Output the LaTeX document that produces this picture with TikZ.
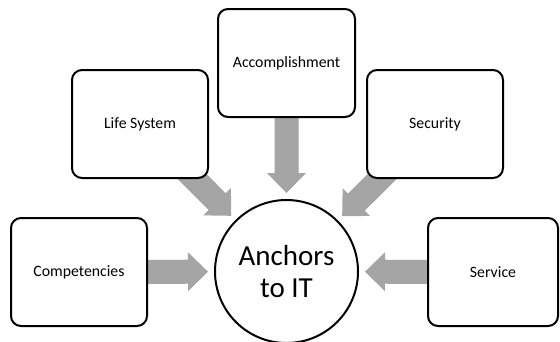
\documentclass[tikz,border=0pt]{standalone}
\usepackage{fontspec}
\setmainfont{Carlito}
\usetikzlibrary{calc}
\pgfdeclarelayer{bg}
\pgfsetlayers{bg,main}
\definecolor{arrowgray}{RGB}{165,165,165}
\tikzset{
  box/.style={draw=black, line width=2pt, rounded corners=10pt, fill=white,
    minimum width=136pt, minimum height=108pt, inner sep=0pt,
    font=\fontsize{15.8}{19}\selectfont},
  hub/.style={draw=black, line width=2pt, circle, fill=white, minimum size=143pt,
    inner sep=0pt, align=center, font=\fontsize{29}{32}\selectfont},
  fatarrow/.style={fill=arrowgray, draw=none}
}
\newcommand{\fatarrowdraw}[2]{%
  \coordinate (fa-t) at ($(#2.center)!78.5pt!(#1.center)$);
  \coordinate (fa-b) at ($(fa-t)!20pt!(#1.center)$);
  \fill[fatarrow]
    ($(#1.center)!12pt!90:(fa-t)$) -- ($(fa-b)!12pt!-90:(#1.center)$) --
    ($(fa-b)!19.5pt!-90:(#1.center)$) -- (fa-t) --
    ($(fa-b)!19.5pt!90:(#1.center)$) -- ($(fa-b)!12pt!90:(#1.center)$) --
    ($(#1.center)!12pt!-90:(fa-t)$) -- cycle;
}
\begin{document}
\begin{tikzpicture}[x=1pt, y=-1pt]
\useasboundingbox (0,0) rectangle (560,341);
\node[box] (comp) at (79,272) {Competencies};
\node[box] (life) at (140,124) {Life System};
\node[box, minimum width=137pt] (acc) at (286.5,63) {Accomplishment};
\node[box] (sec) at (435,124) {Security};
\node[box, minimum width=130pt] (serv) at (493,272) {Service};
\node[hub] (hub) at (286.5,271.5) {Anchors\\to IT};
\begin{pgfonlayer}{bg}
\fatarrowdraw{comp}{hub}
\fatarrowdraw{life}{hub}
\fatarrowdraw{acc}{hub}
\fatarrowdraw{sec}{hub}
\fatarrowdraw{serv}{hub}
\end{pgfonlayer}
\end{tikzpicture}
\end{document}
